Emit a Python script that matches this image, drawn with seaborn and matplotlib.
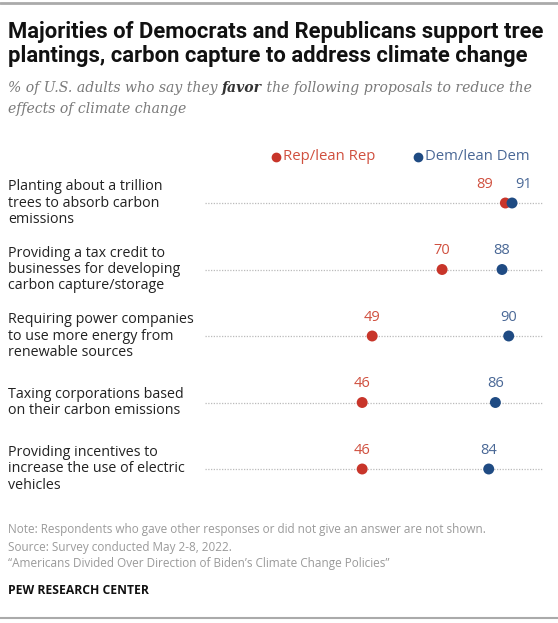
import numpy as np
import pandas as pd
import matplotlib
matplotlib.use("Agg")
import matplotlib.pyplot as plt
import seaborn as sns

# ---------------------------------------------------------------------------
# Data
# ---------------------------------------------------------------------------
items = [
    "Planting about a trillion\ntrees to absorb carbon\nemissions",
    "Providing a tax credit to\nbusinesses for developing\ncarbon capture/storage",
    "Requiring power companies\nto use more energy from\nrenewable sources",
    "Taxing corporations based\non their carbon emissions",
    "Providing incentives to\nincrease the use of electric\nvehicles",
]
rep_values = [89, 70, 49, 46, 46]
dem_values = [91, 88, 90, 86, 84]
parties = ["Rep/lean Rep", "Dem/lean Dem"]

REP_DOT, DEM_DOT = "#C8352A", "#1F4B83"
REP_TXT, DEM_TXT = "#D0503F", "#4A6896"

W, H = 558, 623

df = pd.DataFrame({
    "row": list(range(len(items))) * 2,
    "party": [parties[0]] * len(items) + [parties[1]] * len(items),
    "value": rep_values + dem_values,
})

sns.set_style("white")
plt.rcParams["font.family"] = ["Open Sans", "DejaVu Sans"]


def fx(x):
    return x / W


def fy(y):
    return 1 - y / H


fig = plt.figure(figsize=(W / 100, H / 100), dpi=100)
fig.canvas.draw()
rend = fig.canvas.get_renderer()


def width_px(t):
    return t.get_window_extent(renderer=rend).width


def fit(t, target):
    # scale a text's font so it spans the width seen in the reference
    t.set_fontsize(t.get_fontsize() * target / width_px(t))
    return t.get_fontsize()


# rules top / bottom
fig.add_artist(plt.Line2D([0, 1], [fy(3), fy(3)], color="#AAAAAA", lw=2))
fig.add_artist(plt.Line2D([0, 1], [fy(618), fy(618)], color="#AAAAAA", lw=1.5))

# title
t1 = fig.text(fx(8), fy(38), "Majorities of Democrats and Republicans support tree",
              fontsize=14, weight="bold", color="#111111", va="baseline",
              family=["Roboto", "DejaVu Sans"])
fs = fit(t1, 537)
fig.text(fx(8), fy(62), "plantings, carbon capture to address climate change",
         fontsize=fs, weight="bold", color="#111111", va="baseline",
         family=["Roboto", "DejaVu Sans"])

# subtitle with bold "favor"
sub_font = dict(family=["DejaVu Serif"], style="italic")
pieces = [("% of U.S. adults who say they ", "#7A7A7A", "normal"),
          ("favor", "#333333", "bold"),
          (" the following proposals to reduce the", "#7A7A7A", "normal")]
sub_texts = [fig.text(0, fy(92), p, color=c, weight=w, va="baseline", fontsize=10.5, **sub_font)
             for p, c, w in pieces]
total = sum(width_px(t) for t in sub_texts)
sub_fs = 10.5 * 524 / total
x0 = 8
for t in sub_texts:
    t.set_fontsize(sub_fs)
    t.set_x(fx(x0))
    x0 += width_px(t)
fig.text(fx(8), fy(113), "effects of climate change", color="#7A7A7A",
         va="baseline", fontsize=sub_fs, **sub_font)

# legend
lg1 = fig.text(fx(283), fy(157), parties[0], color=REP_TXT, fontsize=10, va="center")
lfs = fit(lg1, 92)
fig.text(fx(425), fy(157), parties[1], color=DEM_TXT, fontsize=lfs, va="center")
fig.add_artist(plt.Line2D([fx(276)], [fy(157)], marker="o", ms=6, color=REP_DOT, ls=""))
fig.add_artist(plt.Line2D([fx(418)], [fy(157)], marker="o", ms=6, color=DEM_DOT, ls=""))

# main axes: rows 0..4 at y=203..469 px
ax = fig.add_axes([fx(205), fy(502.25), (543 - 205) / W, (502.25 - 169.75) / H])
ax.set_xlim(-1.2, 100.3)
ax.set_ylim(len(items) - 0.5, -0.5)
for i in range(len(items)):
    ax.axhline(i, color="#BBBBBB", lw=0.9, ls=(0, (1, 1.2)), zorder=1)

sns.scatterplot(data=df, x="value", y="row", hue="party", hue_order=parties,
                palette=[REP_DOT, DEM_DOT], s=62, edgecolor="none",
                legend=False, ax=ax, zorder=3)

# value labels (shifted apart where dots overlap)
for i, (rv, dv) in enumerate(zip(rep_values, dem_values)):
    ro, do = (0, 0)
    if abs(rv - dv) < 5:
        ro, do = -15, 8
    ax.annotate(str(rv), (rv, i), xytext=(ro, 13.5), textcoords="offset points",
                ha="center", va="center", color=REP_TXT, fontsize=10.5)
    ax.annotate(str(dv), (dv, i), xytext=(do, 13.5), textcoords="offset points",
                ha="center", va="center", color=DEM_TXT, fontsize=10.5)

ax.set_axis_off()

# row labels, sized so "Requiring power companies" spans ~185 px
probe = fig.text(0, 0, "Requiring power companies", fontsize=10)
row_fs = fit(probe, 185)
probe.remove()
for i, lab in enumerate(items):
    ax.annotate(lab, (0, i), xycoords=("figure fraction", "data"),
                xytext=(8 * 0.72, 0), textcoords="offset points",
                ha="left", va="center", fontsize=row_fs, color="#222222",
                linespacing=1.12, annotation_clip=False)

# footer
foot = ["Note: Respondents who gave other responses or did not give an answer are not shown.",
        "Source: Survey conducted May 2-8, 2022.",
        "\u201cAmericans Divided Over Direction of Biden\u2019s Climate Change Policies\u201d"]
n0 = fig.text(fx(8), fy(530), foot[0], fontsize=8, color="#9A9A9A", va="center")
ffs = fit(n0, 482)
for k, line in enumerate(foot[1:], start=1):
    fig.text(fx(8), fy(530 + 17 * k), line, fontsize=ffs, color="#9A9A9A", va="center")
pew = fig.text(fx(8), fy(590), "PEW RESEARCH CENTER", fontsize=8.5, weight="bold",
               color="#111111", va="center")
fit(pew, 139)

fig.savefig("out.png", dpi=100)
